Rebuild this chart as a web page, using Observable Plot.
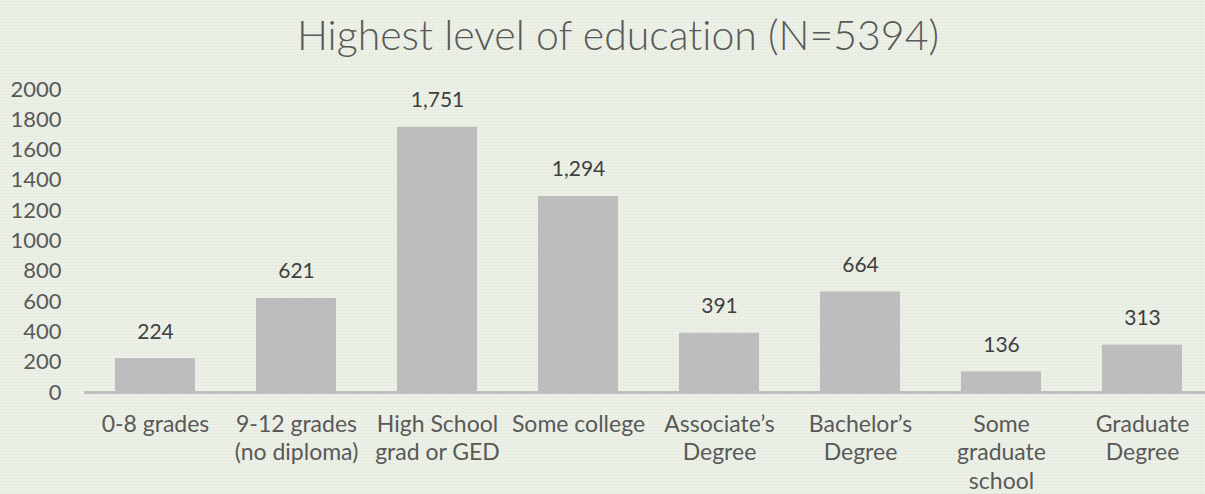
<!DOCTYPE html>
<html>
<head>
<meta charset="utf-8">
<script src="https://cdn.jsdelivr.net/npm/d3@7"></script>
<script src="https://cdn.jsdelivr.net/npm/@observablehq/plot@0.6"></script>
<style>
  html, body { margin: 0; padding: 0; }
  body {
    width: 1205px; height: 494px; overflow: hidden;
    background-color: #edf1e8;
    background-image:
      repeating-linear-gradient(0deg, rgba(205,215,196,0.16) 0px, rgba(205,215,196,0.16) 1px, transparent 1px, transparent 3px),
      repeating-linear-gradient(90deg, rgba(205,215,196,0.14) 0px, rgba(205,215,196,0.14) 1px, transparent 1px, transparent 3px);
    font-family: Lato, "Open Sans", sans-serif;
    font-variant-ligatures: none;
    font-feature-settings: "liga" 0, "clig" 0, "dlig" 0;
  }
  #title {
    box-sizing: border-box;
    width: 1205px; height: 70px;
    padding-top: 14px; padding-left: 31px;
    text-align: center;
    font-size: 41px; line-height: 41px; font-weight: 300;
    color: #595959;
    white-space: nowrap;
    font-variant-ligatures: none;
    font-feature-settings: "liga" 0, "clig" 0, "dlig" 0;
  }
  svg { display: block; background: transparent; font-variant-ligatures: none; font-feature-settings: "liga" 0, "clig" 0; }
</style>
</head>
<body>
<div id="title">Highest level of education (N=5394)</div>
<div id="chart"></div>
<script>
const categories = ["0-8 grades", "9-12 grades (no diploma)", "High School grad or GED", "Some college", "Associate’s Degree", "Bachelor’s Degree", "Some graduate school", "Graduate Degree"];
const tickLabels = ["0-8 grades", "9-12 grades\n(no diploma)", "High School\ngrad or GED", "Some college", "Associate’s\nDegree", "Bachelor’s\nDegree", "Some\ngraduate\nschool", "Graduate\nDegree"];
const counts = [224, 621, 1751, 1294, 391, 664, 136, 313];
const yTicks = [0, 200, 400, 600, 800, 1000, 1200, 1400, 1600, 1800, 2000];

const data = categories.map((c, i) => ({category: c, label: tickLabels[i], count: counts[i]}));
const fmt = d3.format(",");

const chart = Plot.plot({
  width: 1205,
  height: 424,
  marginLeft: 84,
  marginRight: 0,
  marginTop: 19,
  marginBottom: 102,
  style: {background: "transparent", fontFamily: "Lato, 'Open Sans', sans-serif", overflow: "visible"},
  x: {type: "band", domain: categories, range: [84.5, 1212.5], paddingInner: 0.43, paddingOuter: 0.215, axis: null},
  y: {domain: [0, 2000], axis: null},
  marks: [
    Plot.axisY({ticks: yTicks, tickFormat: d => String(d), tickSize: 0, tickPadding: 23, fontSize: 22, fill: "#595959", label: null}),
    Plot.barY(data, {x: "category", y: "count", fill: "#bdbdbd"}),
    Plot.ruleY([0], {stroke: "#bfbfbf", strokeWidth: 3}),
    Plot.text(data, {x: "category", y: "count", text: d => fmt(d.count), lineAnchor: "bottom", dy: -20, fontSize: 21, fill: "#404040"}),
    Plot.text(data, {x: "category", y: () => 0, text: "label", lineAnchor: "top", dy: 20, lineHeight: 1.22, fontSize: 23, fill: "#595959"})
  ]
});
document.getElementById("chart").appendChild(chart);
</script>
</body>
</html>
